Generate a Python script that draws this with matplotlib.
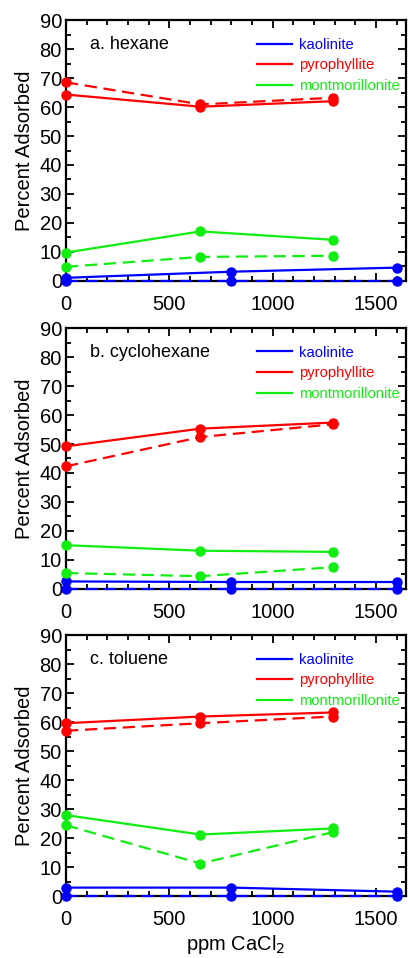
import matplotlib.pyplot as plt
from matplotlib.ticker import MultipleLocator

plt.rcParams['font.family'] = ['Liberation Sans', 'DejaVu Sans']

# x positions (ppm CaCl2)
x_clay = [0, 650, 1290]
x_kao = [0, 800, 1600]

# a. hexane
hex_kao_solid = [1.1, 3.2, 4.6]
hex_kao_dash = [0.0, 0.0, 0.0]
hex_pyr_solid = [64.3, 60.1, 62.0]
hex_pyr_dash = [68.5, 60.9, 63.2]
hex_mon_solid = [9.8, 17.1, 14.2]
hex_mon_dash = [4.9, 8.3, 8.7]

# b. cyclohexane
cyc_kao_solid = [2.6, 2.4, 2.4]
cyc_kao_dash = [0.0, 0.0, 0.0]
cyc_pyr_solid = [49.2, 55.3, 57.4]
cyc_pyr_dash = [42.3, 52.4, 56.8]
cyc_mon_solid = [15.1, 13.2, 12.8]
cyc_mon_dash = [5.5, 4.4, 7.5]

# c. toluene
tol_kao_solid = [2.9, 2.9, 1.5]
tol_kao_dash = [0.0, 0.0, 0.0]
tol_pyr_solid = [59.6, 61.9, 63.3]
tol_pyr_dash = [57.0, 59.6, 61.9]
tol_mon_solid = [27.9, 21.2, 23.3]
tol_mon_dash = [24.4, 11.2, 22.0]

panels = [
    ('a. hexane', hex_kao_solid, hex_kao_dash, hex_pyr_solid, hex_pyr_dash, hex_mon_solid, hex_mon_dash),
    ('b. cyclohexane', cyc_kao_solid, cyc_kao_dash, cyc_pyr_solid, cyc_pyr_dash, cyc_mon_solid, cyc_mon_dash),
    ('c. toluene', tol_kao_solid, tol_kao_dash, tol_pyr_solid, tol_pyr_dash, tol_mon_solid, tol_mon_dash),
]

BLUE, RED, GREEN = '#0000ff', '#ff0000', '#11ee11'

fig = plt.figure(figsize=(4.08, 9.58), dpi=100)
bottoms = [0.7067, 0.3852, 0.0647]
height = 0.2724

for (title, ks, kd, ps, pd, ms, md), b in zip(panels, bottoms):
    ax = fig.add_axes([0.162, b, 0.833, height])
    lw, msz = 1.6, 6.5
    dash = (5.5, 3)
    ax.plot(x_kao, ks, color=BLUE, lw=lw, marker='o', ms=msz, label='kaolinite', clip_on=False, zorder=3)
    ax.plot(x_kao, kd, color=BLUE, lw=lw, marker='o', ms=msz, dashes=dash, clip_on=False, zorder=3)
    ax.plot(x_clay, ps, color=RED, lw=lw, marker='o', ms=msz, label='pyrophyllite', clip_on=False, zorder=3)
    ax.plot(x_clay, pd, color=RED, lw=lw, marker='o', ms=msz, dashes=dash, clip_on=False, zorder=3)
    ax.plot(x_clay, ms, color=GREEN, lw=lw, marker='o', ms=msz, label='montmorillonite', clip_on=False, zorder=3)
    ax.plot(x_clay, md, color=GREEN, lw=lw, marker='o', ms=msz, dashes=dash, clip_on=False, zorder=3)

    ax.set_xlim(0, 1645)
    ax.set_ylim(0, 90)
    ax.xaxis.set_major_locator(MultipleLocator(500))
    ax.xaxis.set_minor_locator(MultipleLocator(100))
    ax.yaxis.set_major_locator(MultipleLocator(10))
    ax.yaxis.set_minor_locator(MultipleLocator(5))
    ax.tick_params(which='both', direction='in', top=True, right=True, labelsize=14.5, width=1.3)
    ax.tick_params(which='major', length=6)
    ax.tick_params(which='minor', length=3.5)
    ax.tick_params(axis='y', pad=3)
    ax.tick_params(axis='x', pad=10)
    for s in ax.spines.values():
        s.set_linewidth(1.6)
    ax.set_ylabel('Percent Adsorbed', fontsize=14.5, labelpad=4)
    ax.text(0.07, 0.905, title, transform=ax.transAxes, fontsize=13, va='center')

    leg = ax.legend(loc='upper right', frameon=False, fontsize=10.6, handlelength=2.4,
                    handletextpad=0.5, labelspacing=0.45, borderaxespad=0.0,
                    bbox_to_anchor=(1.0, 0.955))
    for txt, line in zip(leg.get_texts(), leg.get_lines()):
        txt.set_color(line.get_color())
        line.set_marker('')

ax.set_xlabel('ppm CaCl$_2$', fontsize=14.5, labelpad=3)

fig.savefig('out.png', dpi=100)
